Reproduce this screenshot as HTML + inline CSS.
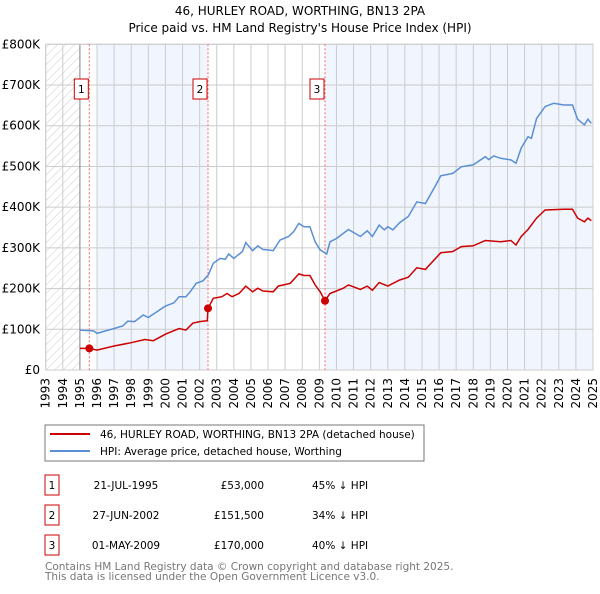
<!DOCTYPE html>
<html><head><meta charset="utf-8"><style>
body{margin:0;background:#fff;font-family:"DejaVu Sans","Liberation Sans",sans-serif}
svg text{font-family:"DejaVu Sans","Liberation Sans",sans-serif}
</style></head><body>
<svg id="c" width="600" height="590" viewBox="0 0 600 590" xmlns="http://www.w3.org/2000/svg">
<defs><pattern id="hatch" width="6" height="6" patternUnits="userSpaceOnUse" patternTransform="rotate(45)"><line x1="0" y1="0" x2="0" y2="6" stroke="#ccc" stroke-width="1"/></pattern></defs>
<text x="300" y="15" text-anchor="middle" font-size="12">46, HURLEY ROAD, WORTHING, BN13 2PA</text>
<text x="300" y="32" text-anchor="middle" font-size="12">Price paid vs. HM Land Registry's House Price Index (HPI)</text>
<g id="plot"></g>
<rect x="45" y="425" width="379" height="36" fill="#fff" stroke="#777"/>
<line x1="50" y1="434" x2="90" y2="434" stroke="#cc0000" stroke-width="2"/>
<text x="100" y="438" font-size="10.5">46, HURLEY ROAD, WORTHING, BN13 2PA (detached house)</text>
<line x1="50" y1="451" x2="90" y2="451" stroke="#5b8fd4" stroke-width="2"/>
<text x="100" y="455" font-size="10.5">HPI: Average price, detached house, Worthing</text>
<g id="table" font-size="10.5"></g>
<text x="45" y="570" font-size="10.5" fill="#777">Contains HM Land Registry data © Crown copyright and database right 2025.</text>
<text x="45" y="580" font-size="10.5" fill="#777">This data is licensed under the Open Government Licence v3.0.</text>
</svg>
<script>
const hpiYears=[1995,1995.8,1996,1996.5,1997,1997.5,1997.8,1998.2,1998.7,1999,1999.5,2000,2000.5,2000.8,2001.2,2001.5,2001.8,2002.2,2002.5,2002.8,2003.2,2003.5,2003.7,2004,2004.5,2004.7,2005.1,2005.4,2005.7,2006,2006.3,2006.7,2007.2,2007.5,2007.8,2008.1,2008.45,2008.75,2009.05,2009.43,2009.62,2010,2010.7,2011.4,2011.8,2012.1,2012.5,2012.8,2013,2013.3,2013.7,2014.2,2014.7,2015.2,2015.8,2016.1,2016.8,2017.3,2018,2018.7,2018.9,2019.2,2019.6,2020.2,2020.5,2020.8,2021.2,2021.4,2021.7,2022.2,2022.7,2023.3,2023.8,2024.1,2024.5,2024.7,2024.9];
const hpiValues=[98,96,90,96,102,108,120,119,135,129,143,157,165,180,180,195,213,219,233,262,274,272,285,274,291,313,293,305,296,295,293,319,328,340,360,352,352,315,295,285,315,323,345,328,342,328,356,344,352,344,362,377,413,409,454,477,483,499,504,524,517,526,520,516,508,545,573,569,618,647,655,651,651,616,602,616,606];
const priceYears=[1995,1995.55,1996,1997,1998,1998.8,1999.3,2000,2000.8,2001.2,2001.6,2002,2002.45,2002.49,2002.8,2003.3,2003.6,2003.9,2004.3,2004.7,2005.1,2005.4,2005.7,2006.3,2006.6,2007.3,2007.8,2008.1,2008.45,2008.75,2009.05,2009.33,2009.62,2010.4,2010.7,2011.4,2011.8,2012.1,2012.5,2013,2013.7,2014.2,2014.7,2015.2,2016.1,2016.8,2017.3,2018,2018.7,2019.6,2020.2,2020.5,2020.8,2021.2,2021.7,2022.2,2023.3,2023.8,2024.1,2024.5,2024.7,2024.9];
const priceValues=[53,53,49,59,67,75,72,88,102,98,115,119,121,151.5,176,180,188,180,188,206,192,201,194,192,206,213,236,232,232,209,192,170,188,201,209,198,206,196,215,206,221,228,251,247,288,291,303,305,318,315,318,307,328,345,373,393,395,395,373,364,373,367];
const saleYears=[1995.55,2002.49,2009.33];
const saleValues=[53,151.5,170];
const saleLabels=["1","2","3"];
const saleDates=["21-JUL-1995","27-JUN-2002","01-MAY-2009"];
const salePrices=["£53,000","£151,500","£170,000"];
const saleDiffs=["45% ↓ HPI","34% ↓ HPI","40% ↓ HPI"];
const yTicks=[0,100,200,300,400,500,600,700,800];
const yTickLabels=["£0","£100K","£200K","£300K","£400K","£500K","£600K","£700K","£800K"];

const X0=45.7,X1=593,Y0=370,Y1=44.3;
const xs=y=>X0+(y-1993)/32*(X1-X0);
const ys=v=>Y0-v/800*(Y0-Y1);
const NS="http://www.w3.org/2000/svg";
const plot=document.getElementById('plot');
function mk(tag,attrs,parent){const e=document.createElementNS(NS,tag);for(const k in attrs)e.setAttribute(k,attrs[k]);(parent||plot).appendChild(e);return e;}
let e;
e=mk('rect',{x:xs(1993),y:Y1,width:xs(1995)-xs(1993),height:Y0-Y1,fill:'url(#hatch)'});


e=mk('rect',{x:xs(1996),y:Y1,width:xs(saleYears[1])-xs(1996),height:Y0-Y1,fill:'#f0f5fe'});


e=mk('rect',{x:xs(saleYears[2]),y:Y1,width:X1-xs(saleYears[2]),height:Y0-Y1,fill:'#f0f5fe'});


for(let yr=1993;yr<=2025;yr++){
 e=mk('line',{x1:xs(yr),x2:xs(yr),y1:Y1,y2:Y0,stroke:'#ccc','stroke-width':1});
 
 
 e=mk('text',{x:0,y:0,'font-size':12,'text-anchor':'end',transform:`translate(${xs(yr)+4},${Y0+8}) rotate(-90)`});
 e.textContent=yr;
 
 
}
yTicks.forEach((v,i)=>{
 e=mk('line',{x1:X0,x2:X1,y1:ys(v),y2:ys(v),stroke:'#ccc','stroke-width':1});
 
 
 e=mk('text',{x:40,y:ys(v)+4,'font-size':12,'text-anchor':'end'});
 e.textContent=yTickLabels[i];
 
 
});
e=mk('line',{x1:xs(1995),x2:xs(1995),y1:Y1,y2:Y0,stroke:'#888'});


e=mk('rect',{x:X0,y:Y1,width:X1-X0,height:Y0-Y1,fill:'none',stroke:'#ccc'});


saleYears.forEach((yr,i)=>{
 e=mk('line',{x1:xs(yr),x2:xs(yr),y1:Y1,y2:Y0,stroke:'#f66','stroke-dasharray':'2,2'});
 
 
 e=mk('rect',{x:xs(yr)-15,y:79,width:14,height:20,fill:'#fff',stroke:'#c00'});
 
 
 e=mk('text',{x:xs(yr)-8,y:93,'font-size':10.5,'text-anchor':'middle'});
 e.textContent=saleLabels[i];
 
 
});
const path=(xa,va)=>xa.map((x,i)=>(i?'L':'M')+xs(x).toFixed(1)+','+ys(va[i]).toFixed(1)).join('');
e=mk('path',{d:path(hpiYears,hpiValues),fill:'none',stroke:'#5b8fd4','stroke-width':1.5});


e=mk('path',{d:path(priceYears,priceValues),fill:'none',stroke:'#cc0000','stroke-width':1.5});


saleYears.forEach((yr,i)=>{
 e=mk('circle',{cx:xs(yr),cy:ys(saleValues[i]),r:4,fill:'#cc0000'});
 
 
});
const tb=document.getElementById('table');
saleYears.forEach((yr,i)=>{
 const yy=475+i*30;
 e=mk('rect',{x:45,y:yy,width:14,height:20,fill:'#fff',stroke:'#c00'},tb);
 
 
 e=mk('text',{x:52,y:yy+14,'text-anchor':'middle'},tb);e.textContent=saleLabels[i];
 
 
 e=mk('text',{x:126,y:yy+14,'text-anchor':'middle'},tb);e.textContent=saleDates[i];
 
 
 e=mk('text',{x:264,y:yy+14,'text-anchor':'end'},tb);e.textContent=salePrices[i];
 
 
 e=mk('text',{x:312,y:yy+14},tb);e.textContent=saleDiffs[i];
 
 
});
</script>
</body></html>
